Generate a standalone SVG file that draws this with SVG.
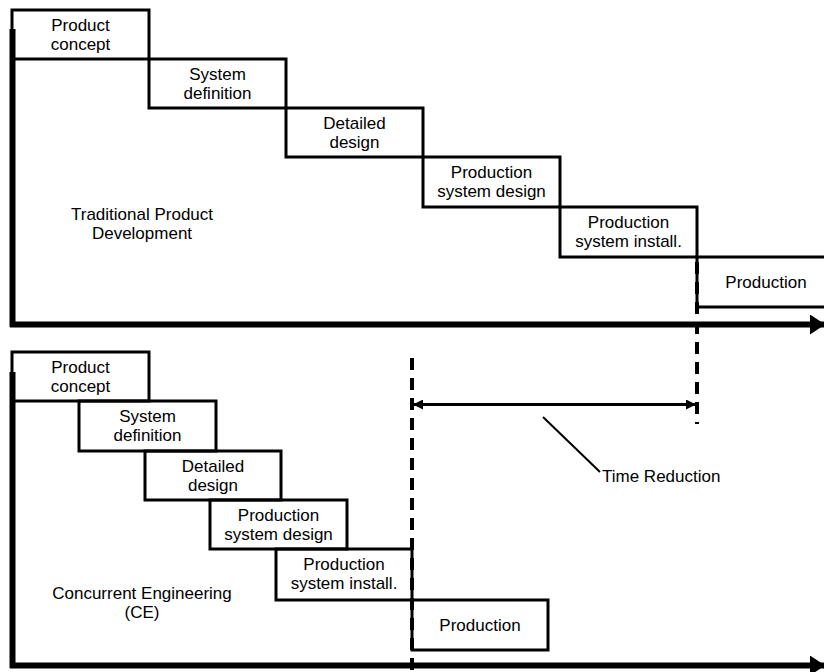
<svg xmlns="http://www.w3.org/2000/svg" width="824" height="672" viewBox="0 0 824 672">
  <style>
    .box { fill: none; stroke: #000; stroke-width: 3; }
    .lbl { font-family: "Liberation Sans", Arial, sans-serif; font-size: 17px; fill: #000; text-anchor: middle; }
    .note { font-family: "Liberation Sans", Arial, sans-serif; font-size: 17px; fill: #000; }
    .axis { stroke: #000; stroke-width: 6; fill: none; }
    .dash { stroke: #000; stroke-width: 4; stroke-dasharray: 12 8; fill: none; }
    .span { stroke: #000; stroke-width: 3; fill: none; }
    .lead { stroke: #000; stroke-width: 2; fill: none; }
  </style>
  <defs>
    <marker id="axisHead" markerUnits="userSpaceOnUse" markerWidth="16" markerHeight="20" refX="14" refY="10" orient="auto">
      <polygon points="0,0 15,10 0,20" fill="#000"/>
    </marker>
    <marker id="spanHead" markerUnits="userSpaceOnUse" markerWidth="10" markerHeight="10" refX="9" refY="5" orient="auto-start-reverse">
      <polygon points="0,0 10,5 0,10" fill="#000"/>
    </marker>
  </defs>

  <rect width="824" height="672" fill="#fff"/>

  <!-- time axes and milestone markers -->
  <g id="connectors">
    <line class="axis" x1="12.5" y1="29" x2="12.5" y2="327" stroke-width="5"/>
    <line class="axis" x1="10" y1="324.5" x2="824" y2="324.5" marker-end="url(#axisHead)"/>
    <line class="axis" x1="12.5" y1="372" x2="12.5" y2="668" stroke-width="5"/>
    <line class="axis" x1="10" y1="665.5" x2="824" y2="665.5" marker-end="url(#axisHead)"/>
    <line class="dash" x1="697" y1="262" x2="697" y2="424"/>
    <line class="dash" x1="412" y1="358" x2="412" y2="672"/>
    <line class="span" x1="414" y1="404.5" x2="695" y2="404.5" marker-start="url(#spanHead)" marker-end="url(#spanHead)"/>
    <line class="lead" x1="543" y1="417" x2="600" y2="472"/>
  </g>

  <!-- sequential phases -->
  <g id="trad-concept"><rect class="box" x="12" y="10" width="137" height="49"/>
    <text class="lbl" x="80.5" y="31">Product</text><text class="lbl" x="80.5" y="50">concept</text></g>
  <g id="trad-system"><rect class="box" x="149" y="59" width="137" height="49"/>
    <text class="lbl" x="217.5" y="80">System</text><text class="lbl" x="217.5" y="99">definition</text></g>
  <g id="trad-detailed"><rect class="box" x="286" y="108" width="137" height="49"/>
    <text class="lbl" x="354.5" y="129">Detailed</text><text class="lbl" x="354.5" y="148">design</text></g>
  <g id="trad-psdesign"><rect class="box" x="423" y="157" width="137" height="50"/>
    <text class="lbl" x="491.5" y="178">Production</text><text class="lbl" x="491.5" y="197">system design</text></g>
  <g id="trad-psinstall"><rect class="box" x="560" y="207" width="137" height="50"/>
    <text class="lbl" x="628.5" y="228">Production</text><text class="lbl" x="628.5" y="247">system install.</text></g>
  <g id="trad-production"><rect class="box" x="697" y="257" width="140" height="50"/>
    <text class="lbl" x="766" y="288">Production</text></g>
  <g id="trad-title"><text class="lbl" x="142" y="220">Traditional Product</text><text class="lbl" x="142" y="239">Development</text></g>

  <!-- overlapping phases -->
  <g id="ce-concept"><rect class="box" x="12" y="352" width="137" height="49"/>
    <text class="lbl" x="80.5" y="373">Product</text><text class="lbl" x="80.5" y="392">concept</text></g>
  <g id="ce-system"><rect class="box" x="79" y="401" width="137" height="50"/>
    <text class="lbl" x="147.5" y="422">System</text><text class="lbl" x="147.5" y="441">definition</text></g>
  <g id="ce-detailed"><rect class="box" x="145" y="451" width="136" height="49"/>
    <text class="lbl" x="213" y="472">Detailed</text><text class="lbl" x="213" y="491">design</text></g>
  <g id="ce-psdesign"><rect class="box" x="210" y="500" width="137" height="49"/>
    <text class="lbl" x="278.5" y="521">Production</text><text class="lbl" x="278.5" y="540">system design</text></g>
  <g id="ce-psinstall"><rect class="box" x="276" y="549" width="136" height="51"/>
    <text class="lbl" x="344" y="570">Production</text><text class="lbl" x="344" y="589">system install.</text></g>
  <g id="ce-production"><rect class="box" x="412" y="600" width="136" height="50"/>
    <text class="lbl" x="480" y="631">Production</text></g>
  <g id="ce-title"><text class="lbl" x="142" y="599">Concurrent Engineering</text><text class="lbl" x="142" y="618">(CE)</text></g>

  <g id="time-reduction"><text class="note" x="602" y="482">Time Reduction</text></g>
</svg>
